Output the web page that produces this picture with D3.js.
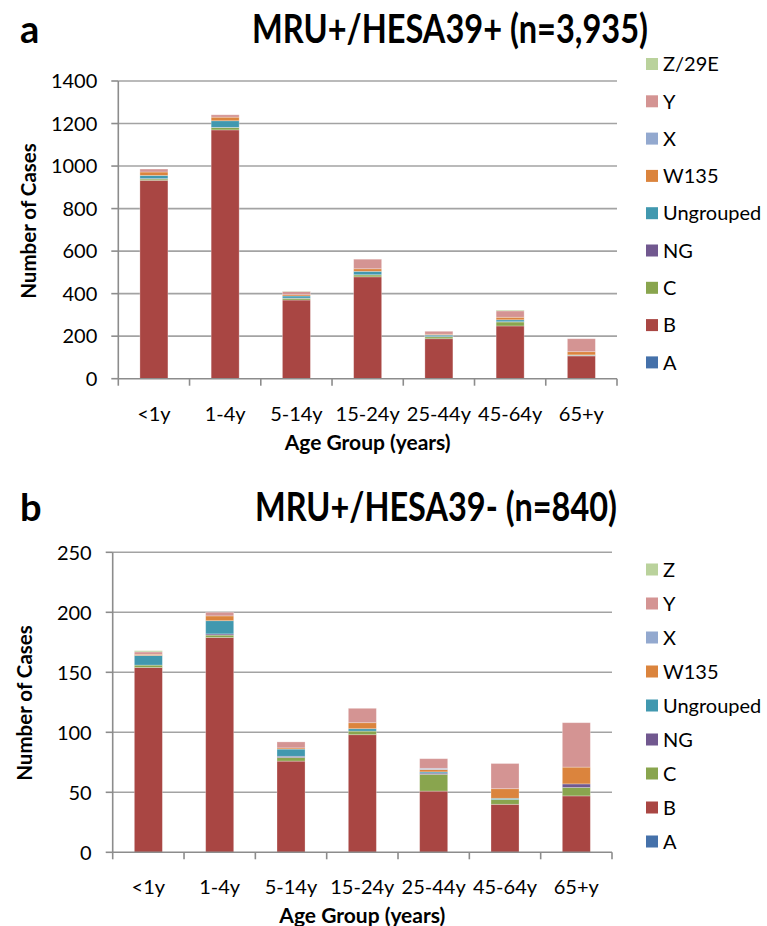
<!DOCTYPE html>
<html><head><meta charset="utf-8">
<script src="https://cdn.jsdelivr.net/npm/d3@7"></script>
<style>body{margin:0;background:#fff}svg{display:block}text{font-family:Lato,"Open Sans",sans-serif;fill:#000}</style>
</head><body>
<svg id="c" width="767" height="926"></svg>
<script>
const categories = ["<1y","1-4y","5-14y","15-24y","25-44y","45-64y","65+y"];
const seriesKeys = ["A","B","C","NG","Ungrouped","W135","X","Y","Z"];
const colors = ["#4571aa","#a94643","#89a54e","#71588f","#4198af","#db843d","#93a9cf","#d49493","#bad29c"];
// Panel a values
const aA = [0,0,0,0,0,0,0];
const aB = [933,1170,370,479,188,248,107];
const aC = [6,11,8,9,9,19,3];
const aNG = [2,1,1,1,1,1,1];
const aUngrouped = [15,31,10,16,7,9,1];
const aW135 = [16,17,6,12,4,12,15];
const aX = [0,0,0,0,0,0,0];
const aY = [14,11,15,45,14,30,61];
const aZ = [0,0,2,0,0,4,0];
// Panel b values
const bA = [0,0,0,0,0,0,0];
const bB = [154,179,76,98,51,40,47];
const bC = [2,2,3,3,14,4,7];
const bNG = [0,1,1,0,1,0,3];
const bUngrouped = [8,11,6,2,1,1,0];
const bW135 = [1,4,1,5,2,8,14];
const bX = [0,0,0,0,1,0,0];
const bY = [2,3,5,12,8,21,37];
const bZ = [1,0,0,0,0,0,0];
const ticksA = [0,200,400,600,800,1000,1200,1400];
const ticksB = [0,50,100,150,200,250];
const legendA = ["A","B","C","NG","Ungrouped","W135","X","Y","Z/29E"];
const legendB = ["A","B","C","NG","Ungrouped","W135","X","Y","Z"];

const svg = d3.select("#c");

function panel(o){
  const rows = categories.map((c,i)=>{const r={cat:c}; seriesKeys.forEach((k,j)=>r[k]=o.vals[j][i]); return r;});
  const x = d3.scaleBand().domain(categories).range([o.x0,o.x1]).paddingInner(0.607).paddingOuter(0.3035);
  const y = d3.scaleLinear().domain([0,o.max]).range([o.y0,o.y1]);
  const g = svg.append("g");
  g.selectAll(".gl").data(o.ticks.filter(t=>t>0)).join("line")
    .attr("x1",o.x0).attr("x2",o.x1).attr("y1",d=>y(d)).attr("y2",d=>y(d))
    .attr("stroke","#a3a3a3").attr("stroke-width",1.6);
  const stack = d3.stack().keys(seriesKeys)(rows);
  g.selectAll(".s").data(stack).join("g").attr("fill",(d,i)=>colors[i])
    .selectAll("rect").data(d=>d.filter(p=>p[1]-p[0]>0)).join("rect")
    .attr("x",d=>x(d.data.cat)).attr("width",x.bandwidth())
    .attr("y",d=>y(d[1])).attr("height",d=>y(d[0])-y(d[1]))
    .attr("stroke","#fff").attr("stroke-opacity",0.35).attr("stroke-width",0.8);
  g.append("line").attr("x1",o.x0).attr("x2",o.x0).attr("y1",o.y1).attr("y2",o.y0).attr("stroke","#8c8c8c").attr("stroke-width",1.6);
  g.append("line").attr("x1",o.x0).attr("x2",o.x1).attr("y1",o.y0).attr("y2",o.y0).attr("stroke","#8c8c8c").attr("stroke-width",1.6);
  g.selectAll(".yt").data(o.ticks).join("line").attr("x1",o.x0-7).attr("x2",o.x0).attr("y1",d=>y(d)).attr("y2",d=>y(d)).attr("stroke","#8c8c8c").attr("stroke-width",1.6);
  const bounds = categories.map(c=>x(c)-x.step()*x.paddingInner()/2);
  bounds.push(o.x1);
  g.selectAll(".xt").data(bounds).join("line").attr("x1",d=>d).attr("x2",d=>d).attr("y1",o.y0).attr("y2",o.y0+7).attr("stroke","#8c8c8c").attr("stroke-width",1.6);
  g.selectAll(".yl").data(o.ticks).join("text").attr("x",o.x0-21).attr("y",d=>y(d)).attr("dy","0.36em")
    .attr("text-anchor","end").attr("font-size",20).text(d=>d);
  g.selectAll(".xl").data(categories).join("text").attr("x",d=>x(d)+x.bandwidth()/2).attr("y",o.y0+42)
    .attr("text-anchor","middle").attr("font-size",20).text(d=>d);
  g.append("text").attr("x",(o.x0+o.x1)/2).attr("y",o.y0+71).attr("text-anchor","middle")
    .attr("font-size",21).attr("font-weight","bold").text("Age Group (years)");
  g.append("text").attr("transform",`translate(${o.ytx},${o.yty}) rotate(-90)`).attr("text-anchor","middle")
    .attr("dy","0.36em").attr("font-size",20.5).attr("font-weight","bold").text("Number of Cases");
  g.append("text").attr("x",o.lx).attr("y",o.ty).attr("font-size",38).attr("font-weight","bold").text(o.letter);
  g.append("text").attr("x",o.tx).attr("y",o.ty).attr("font-size",40).attr("font-weight","bold")
    .attr("textLength",o.tw).attr("lengthAdjust","spacingAndGlyphs").text(o.title);
  const leg = o.legend.map((n,i)=>({n,c:colors[i]})).reverse();
  const lg = g.selectAll(".lg").data(leg).join("g").attr("transform",(d,i)=>`translate(646,${o.ly0+i*o.lstep})`);
  lg.append("rect").attr("x",0).attr("y",-6).attr("width",12).attr("height",12).attr("fill",d=>d.c);
  lg.append("text").attr("x",17).attr("y",0).attr("dy","0.36em").attr("font-size",20).text(d=>d.n);
}

panel({vals:[aA,aB,aC,aNG,aUngrouped,aW135,aX,aY,aZ], x0:118.3, x1:617, y0:378.7, y1:81, max:1400, ticks:ticksA,
  ytx:29, yty:221, letter:"a", lx:20, tx:252, ty:43, tw:396, title:"MRU+/HESA39+ (n=3,935)",
  legend:legendA, ly0:64, lstep:37.3});
panel({vals:[bA,bB,bC,bNG,bUngrouped,bW135,bX,bY,bZ], x0:112.7, x1:612, y0:852.3, y1:552.3, max:250, ticks:ticksB,
  ytx:25, yty:703, letter:"b", lx:20, tx:255, ty:521, tw:362, title:"MRU+/HESA39- (n=840)",
  legend:legendB, ly0:569.5, lstep:34});
</script>
</body></html>
